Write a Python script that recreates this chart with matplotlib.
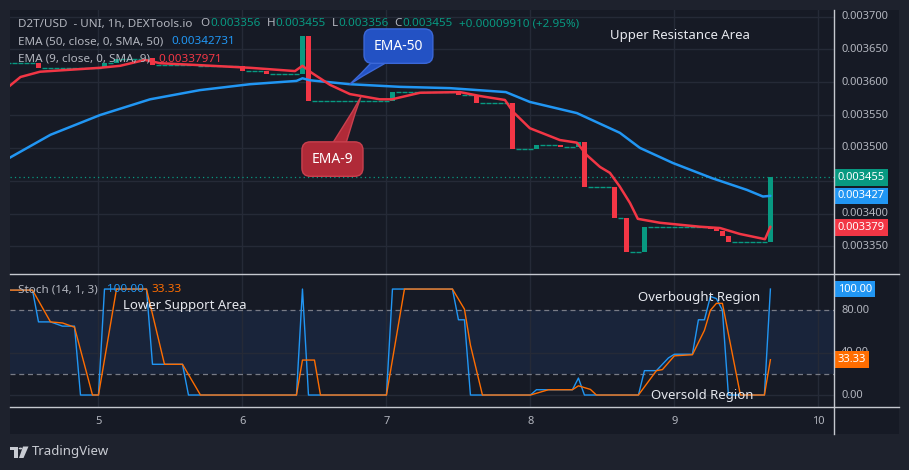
import numpy as np
import matplotlib.pyplot as plt
from matplotlib.transforms import blended_transform_factory
from matplotlib.patches import Rectangle, Polygon, Circle

plt.rcParams['font.family'] = ['Noto Sans', 'DejaVu Sans']

# ---- data (x = hours since day 5, 00:00) ----
first_hour, last_hour = -15, 112
start_price = 0.003630
move_hour = [-10, 1, 3, 9, 16, 24, 28, 34, 35, 49, 60, 63, 69, 73, 77, 80, 81,
             86, 88, 91, 102, 103, 104, 105, 112]
move_open = [0.003630, 0.003621, 0.003629, 0.003637, 0.003626, 0.003624, 0.003617,
             0.003613, 0.003670, 0.003572, 0.003585, 0.003581, 0.003568, 0.003498,
             0.003504, 0.003501, 0.003509, 0.003440, 0.003394, 0.003341, 0.003380,
             0.003376, 0.003373, 0.003366, 0.003356]
move_close = [0.003621, 0.003629, 0.003635, 0.003626, 0.003624, 0.003617, 0.003613,
              0.003670, 0.003572, 0.003585, 0.003581, 0.003568, 0.003498, 0.003504,
              0.003501, 0.003509, 0.003440, 0.003394, 0.003341, 0.003380, 0.003376,
              0.003373, 0.003366, 0.003356, 0.003455]

ema50_hours = [-15, -8, 0.25, 8.6, 16.9, 25.25, 33, 34, 35.25, 41.9, 50.25, 58.6,
               67.9, 71.9, 79.75, 84.75, 86.9, 90.25, 95.75, 102.25, 108.1, 110.75, 112]
ema50 = [0.003484, 0.003520, 0.003550, 0.003574, 0.003588, 0.003597, 0.003602,
         0.003606, 0.003603, 0.003597, 0.003593, 0.003591, 0.003585, 0.003570,
         0.003553, 0.003532, 0.003523, 0.003500, 0.003477, 0.003454, 0.003436,
         0.003426, 0.003427]

ema9_hours = [-15, -13, -9.75, 0.25, 3.6, 7.75, 10.25, 16.9, 25.25, 32.75, 34, 35.6,
              38.6, 41.9, 46.9, 48.9, 53.6, 60.25, 63.6, 67.75, 69.1, 71.9, 76.9,
              79.75, 81.4, 83.6, 85.25, 86.9, 88.6, 89.9, 93.6, 100.25, 103.6,
              106.9, 111.1, 112]
ema9 = [0.003593, 0.003608, 0.003616, 0.003622, 0.003625, 0.003634, 0.003629,
        0.003626, 0.003622, 0.003617, 0.003625, 0.003614, 0.003596, 0.003582,
        0.003574, 0.003574, 0.003584, 0.003585, 0.003579, 0.003573, 0.003555,
        0.003530, 0.003512, 0.003508, 0.003489, 0.003471, 0.003462, 0.003441,
        0.003416, 0.003392, 0.003386, 0.003380, 0.003378, 0.003369, 0.003361,
        0.003380]

stoch_k_hours = [-15, -11, -10, -8, -6, -4, -3, 0, 1, 8, 9, 14, 15, 33, 34, 35, 48,
                 49, 59, 60, 61, 62, 72, 73, 79, 80, 81, 90, 91, 93, 95, 96, 99,
                 100, 101, 102, 103, 104, 105, 111, 112]
stoch_k = [99, 99, 69, 69, 65, 65, 0, 0, 100, 100, 29, 29, 0, 0, 100, 0, 0,
           100, 100, 71, 71, 0, 0, 5, 5, 16, 0, 0, 23, 23, 35, 38.5, 38.5,
           71, 71, 93, 91, 80, 0, 0, 100]
stoch_d_hours = [-15, -11, -8, -6, -4, -1, 0, 3, 8, 11, 14, 17, 33, 34, 36, 37, 48,
                 51, 59, 61, 62, 64, 72, 75, 79, 80, 81, 82, 83, 90, 93, 94, 96,
                 99, 101, 102, 103, 104, 107, 111, 112]
stoch_d = [99, 99, 69, 68, 64, 0, 0, 100, 100, 29, 29, 0, 0, 33, 33, 0, 0,
           100, 100, 81, 47, 0, 0, 5, 5, 8.7, 7, 5.3, 0, 0, 23, 24, 37,
           38, 61, 80, 86.5, 86.5, 0, 0, 33.33]

price_ticks = [0.00335, 0.00340, 0.00345, 0.00350, 0.00355, 0.00360, 0.00365, 0.00370]
day_labels = ['5', '6', '7', '8', '9', '10']

# ---- colours ----
BG_OUT = '#1e222d'
BG = '#161a25'
GRID = '#252a37'
TXT = '#b2b5be'
UP = '#089981'
DOWN = '#f23645'
BLUE = '#2196f3'
ORANGE = '#ff6d00'
LINE = '#c5c8cf'

W, H = 909, 470
fig = plt.figure(figsize=(W / 100, H / 100), dpi=100, facecolor=BG_OUT)


def fx(px):
    return px / W


def fy(py):
    return 1 - py / H


fig.add_artist(Rectangle((fx(10), fy(434)), fx(889), 424 / H, transform=fig.transFigure,
                         facecolor=BG, edgecolor='none', zorder=0))

ax = fig.add_axes([fx(10), fy(274), fx(824), 264 / H])
ax2 = fig.add_axes([fx(10), fy(407), fx(824), 133 / H], sharex=ax)
for a in (ax, ax2):
    a.set_facecolor(BG)
    for s in a.spines.values():
        s.set_visible(False)
    a.tick_params(left=False, bottom=False, labelleft=False, labelbottom=False)
    a.set_xticks([0, 24, 48, 72, 96, 120])
    a.grid(True, axis='x', color=GRID, lw=1)
    a.set_axisbelow(True)

ax.set_xlim(-14.75, 122.6)
ax.set_ylim(0.003308, 0.00371)
ax.set_yticks(price_ticks)
ax.grid(True, axis='y', color=GRID, lw=1)

# ---- candles ----
moves = dict(zip(move_hour, zip(move_open, move_close)))
price = start_price
for h in range(first_hour, last_hour + 1):
    if h in moves:
        o, c = moves[h]
    else:
        o = c = price
    price = c
    if o == c:
        ax.hlines(c, h - 0.4, h + 0.4, color=UP, lw=1, zorder=3)
    else:
        col = UP if c > o else DOWN
        ax.bar(h, c - o, bottom=o, width=0.8, color=col, zorder=3, linewidth=0)

ax.plot(ema50_hours, ema50, color=BLUE, lw=1.8, zorder=4, solid_capstyle='round')
ax.plot(ema9_hours, ema9, color=DOWN, lw=1.8, zorder=4, solid_capstyle='round')
ax.axhline(0.003455, color=UP, lw=0.9, ls=(0, (1, 2.5)), zorder=2)

# callouts
ax.annotate('EMA-50', xy=(41.9, 0.003597), xytext=(50.0, 0.003655), ha='center', va='center',
            color='white', fontsize=10, fontweight='bold', zorder=6,
            bbox=dict(boxstyle='round,pad=0.7,rounding_size=0.6', fc='#2352c4', ec='#3b68d8', lw=1),
            arrowprops=dict(arrowstyle='wedge,tail_width=1.3,shrink_factor=0.4', fc='#2352c4',
                            ec='#3b68d8', shrinkA=0, shrinkB=0, patchA=None))
ax.annotate('EMA-9', xy=(43.75, 0.003578), xytext=(39.0, 0.003483), ha='center', va='center',
            color='white', fontsize=10, fontweight='bold', zorder=6,
            bbox=dict(boxstyle='round,pad=0.7,rounding_size=0.6', fc='#b02a38', ec='#c9404e', lw=1),
            arrowprops=dict(arrowstyle='wedge,tail_width=1.3,shrink_factor=0.4', fc='#b02a38',
                            ec='#c9404e', shrinkA=0, shrinkB=0, patchA=None))

ax.text(0.813, 0.905, 'Upper Resistance Area', transform=ax.transAxes, ha='center', va='center',
        color='#e6e8ee', fontsize=9.5, fontweight='semibold', zorder=7)

# ---- stochastic ----
ax2.set_ylim(-11.3, 114.2)
ax2.axhspan(20, 80, color='#19243a', zorder=0, lw=0)
ax2.axhline(40, color=GRID, lw=1, zorder=0.5)
ax2.axhline(0, color=GRID, lw=1, zorder=0.5)
for lv in (80, 20):
    ax2.axhline(lv, color='#787b86', lw=0.9, ls=(0, (4, 3)), zorder=1)
ax2.plot(stoch_k_hours, stoch_k, color=BLUE, lw=1.0, zorder=3)
ax2.plot(stoch_d_hours, stoch_d, color=ORANGE, lw=1.0, zorder=4)

ann_kw = dict(ha='center', va='center', color='#e6e8ee', fontsize=9.5,
              fontweight='semibold', zorder=7, transform=ax2.transAxes)
ax2.text(0.2124, 0.76, 'Lower Support Area', **ann_kw)
ax2.text(0.836, 0.827, 'Overbought Region', **ann_kw)
ax2.text(0.840, 0.083, 'Oversold Region', **ann_kw)

# ---- frame lines ----
for y in (274, 407):
    fig.add_artist(plt.Line2D([fx(10), fx(899)], [fy(y), fy(y)], color=LINE, lw=1,
                              transform=fig.transFigure, zorder=8))
fig.add_artist(plt.Line2D([fx(834), fx(834)], [fy(10), fy(434)], color=LINE, lw=1,
                          transform=fig.transFigure, zorder=8))

# ---- right price scale ----
tr_main = blended_transform_factory(fig.transFigure, ax.transData)
for p in price_ticks:
    if p == 0.00345:
        continue
    ax.text(fx(841), p, f'{p:.6f}', transform=tr_main, ha='left', va='center',
            color=TXT, fontsize=8, clip_on=False)
badge = dict(boxstyle='square,pad=0.25', ec='none')
for p, col in ((0.003455, UP), (0.003427, BLUE), (0.003379, DOWN)):
    ax.text(fx(838), p, f'{p:.6f}', transform=tr_main, ha='left', va='center',
            color='white', fontsize=8, fontweight='bold', clip_on=False, zorder=9,
            bbox=dict(fc=col, **badge))

tr_st = blended_transform_factory(fig.transFigure, ax2.transData)
for v in (80, 40, 0):
    ax2.text(fx(841), v, f'{v:.2f}', transform=tr_st, ha='left', va='center',
             color=TXT, fontsize=8, clip_on=False)
ax2.text(fx(838), 100, '100.00', transform=tr_st, ha='left', va='center', color='white',
         fontsize=8, fontweight='bold', clip_on=False, zorder=9, bbox=dict(fc=BLUE, **badge))
ax2.text(fx(838), 33.33, '33.33', transform=tr_st, ha='left', va='center', color='white',
         fontsize=8, fontweight='bold', clip_on=False, zorder=9, bbox=dict(fc=ORANGE, **badge))

# ---- date axis ----
tr_date = blended_transform_factory(ax2.transData, fig.transFigure)
for i, lab in enumerate(day_labels):
    ax2.text(i * 24, fy(421), lab, transform=tr_date, ha='center', va='center',
             color=TXT, fontsize=8, clip_on=False)

# ---- legend headers ----
renderer = fig.canvas.get_renderer()


def write_line(x_px, y_px, parts, size=8.4):
    x = x_px
    for s, col, gap in parts:
        t = fig.text(fx(x), fy(y_px), s, color=col, fontsize=size, ha='left', va='center', zorder=10)
        x += t.get_window_extent(renderer).width + gap


write_line(18, 24, [('D2T/USD  - UNI, 1h, DEXTools.io', TXT, 8), ('O', TXT, 0.5), ('0.003356', UP, 6),
                    ('H', TXT, 0.5), ('0.003455', UP, 6), ('L', TXT, 0.5), ('0.003356', UP, 6),
                    ('C', TXT, 0.5), ('0.003455', UP, 6), ('+0.00009910 (+2.95%)', UP, 0)])
write_line(18, 42, [('EMA (50, close, 0, SMA, 50)', TXT, 8), ('0.00342731', BLUE, 0)])
write_line(18, 59, [('EMA (9, close, 0, SMA, 9)', TXT, 8), ('0.00337971', DOWN, 0)])
write_line(18, 290, [('Stoch (14, 1, 3)', TXT, 9), ('100.00', BLUE, 8), ('33.33', ORANGE, 0)])

# ---- TradingView mark ----
logo = '#c9ccd3'
fig.add_artist(Rectangle((fx(10), fy(450)), fx(8), 3.5 / H, transform=fig.transFigure, fc=logo, ec='none'))
fig.add_artist(Rectangle((fx(14), fy(458)), fx(3.5), 11 / H, transform=fig.transFigure, fc=logo, ec='none'))
fig.add_artist(Circle((fx(20.5), fy(448.5)), 1.8 / W, transform=fig.transFigure, fc=logo, ec='none'))
fig.add_artist(Polygon([(fx(23), fy(446.5)), (fx(28.5), fy(446.5)), (fx(23.5), fy(458)), (fx(19), fy(458))],
                       closed=True, transform=fig.transFigure, fc=logo, ec='none'))
fig.text(fx(32), fy(452), 'TradingView', color=logo, fontsize=9.5, ha='left', va='center')

fig.savefig('out.png', dpi=100, facecolor=BG_OUT)
